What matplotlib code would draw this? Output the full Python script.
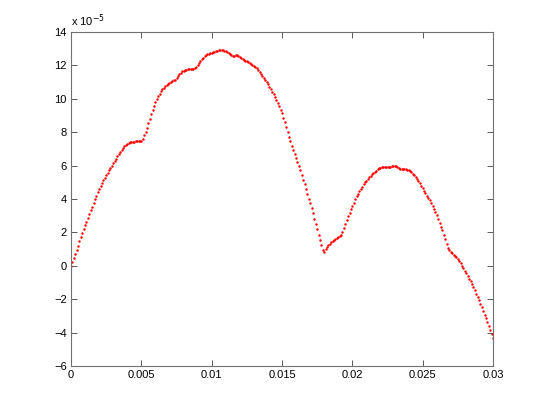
import numpy as np
import matplotlib
matplotlib.use("Agg")
import matplotlib.pyplot as plt

# sample times, one every 0.1 ms
t = np.arange(301) * 1e-4

# signal values, in units of 1e-5
y = [
    0.00, 0.24, 0.48, 0.73, 0.97, 1.21, 1.46, 1.70, 1.95, 2.19,
    2.42, 2.65, 2.88, 3.10, 3.33, 3.55, 3.77, 3.99, 4.20, 4.42,
    4.62, 4.80, 4.97, 5.12, 5.27, 5.41, 5.56, 5.71, 5.86, 6.00,
    6.14, 6.28, 6.42, 6.56, 6.70, 6.83, 6.96, 7.08, 7.18, 7.26,
    7.32, 7.36, 7.39, 7.41, 7.43, 7.44, 7.45, 7.45, 7.46, 7.47,
    7.50, 7.62, 7.82, 8.04, 8.28, 8.55, 8.82, 9.08, 9.33, 9.56,
    9.78, 9.98, 10.16, 10.31, 10.44, 10.56, 10.66, 10.74, 10.82, 10.90,
    10.96, 11.01, 11.06, 11.10, 11.14, 11.22, 11.34, 11.46, 11.56, 11.64,
    11.69, 11.72, 11.75, 11.77, 11.78, 11.79, 11.80, 11.81, 11.83, 11.90,
    12.02, 12.15, 12.26, 12.37, 12.46, 12.54, 12.61, 12.67, 12.71, 12.74,
    12.77, 12.80, 12.83, 12.86, 12.88, 12.90, 12.92, 12.92, 12.91, 12.89,
    12.86, 12.82, 12.76, 12.68, 12.60, 12.56, 12.58, 12.61, 12.62, 12.58,
    12.52, 12.45, 12.39, 12.34, 12.29, 12.26, 12.21, 12.15, 12.09, 12.03,
    11.96, 11.90, 11.82, 11.72, 11.61, 11.50, 11.39, 11.27, 11.14, 11.00,
    10.86, 10.72, 10.58, 10.43, 10.27, 10.10, 9.92, 9.73, 9.54, 9.34,
    9.13, 8.88, 8.60, 8.31, 8.02, 7.73, 7.46, 7.20, 6.96, 6.72,
    6.48, 6.24, 6.00, 5.73, 5.45, 5.16, 4.87, 4.58, 4.30, 4.02,
    3.74, 3.45, 3.14, 2.82, 2.50, 2.18, 1.87, 1.56, 1.26, 0.97,
    0.80, 0.98, 1.10, 1.22, 1.33, 1.42, 1.50, 1.56, 1.62, 1.67,
    1.71, 1.76, 1.85, 2.02, 2.25, 2.52, 2.76, 2.98, 3.18, 3.38,
    3.58, 3.78, 3.98, 4.16, 4.32, 4.47, 4.61, 4.74, 4.87, 4.99,
    5.10, 5.20, 5.30, 5.39, 5.48, 5.56, 5.63, 5.70, 5.77, 5.83,
    5.88, 5.92, 5.93, 5.93, 5.92, 5.91, 5.91, 5.92, 5.95, 5.97,
    5.97, 5.95, 5.91, 5.86, 5.82, 5.80, 5.79, 5.78, 5.77, 5.75,
    5.72, 5.67, 5.60, 5.51, 5.41, 5.30, 5.18, 5.06, 4.94, 4.80,
    4.65, 4.50, 4.33, 4.16, 4.04, 3.92, 3.77, 3.60, 3.42, 3.22,
    3.03, 2.82, 2.58, 2.35, 2.12, 1.86, 1.58, 1.32, 1.08, 0.92,
    0.83, 0.75, 0.67, 0.59, 0.50, 0.42, 0.30, 0.16, 0.01, -0.14,
    -0.30, -0.46, -0.62, -0.78, -0.94, -1.10, -1.27, -1.46, -1.66, -1.86,
    -2.06, -2.26, -2.48, -2.70, -2.92, -3.14, -3.36, -3.58, -3.82, -4.06,
    -4.32,
]

xticks = [0, 0.005, 0.01, 0.015, 0.02, 0.025, 0.03]
xlabels = ["0", "0.005", "0.01", "0.015", "0.02", "0.025", "0.03"]
yticks = list(range(-6, 15, 2))

plt.rcParams['font.family'] = ['Liberation Sans', 'DejaVu Sans']

fig = plt.figure(figsize=(5.45, 4.12), dpi=100)
ax = fig.add_axes([0.1303, 0.1117, 0.7743, 0.8106])

ax.plot(t, y, 'r.', markersize=3.5, markeredgewidth=0)

ax.set_xlim(0, 0.03)
ax.set_ylim(-6, 14)
ax.set_xticks(xticks)
ax.set_xticklabels(xlabels)
ax.set_yticks(yticks)
ax.tick_params(direction='in', length=4, width=0.6, labelsize=8,
               top=True, right=True, colors='#404040', labelcolor='black', pad=3)
for s in ax.spines.values():
    s.set_color('#707070')
    s.set_linewidth(0.8)

ax.text(0.0, 1.008, r'x 10$^{-5}$', transform=ax.transAxes, fontsize=8,
        ha='left', va='bottom')

fig.savefig('out.png', dpi=100)
